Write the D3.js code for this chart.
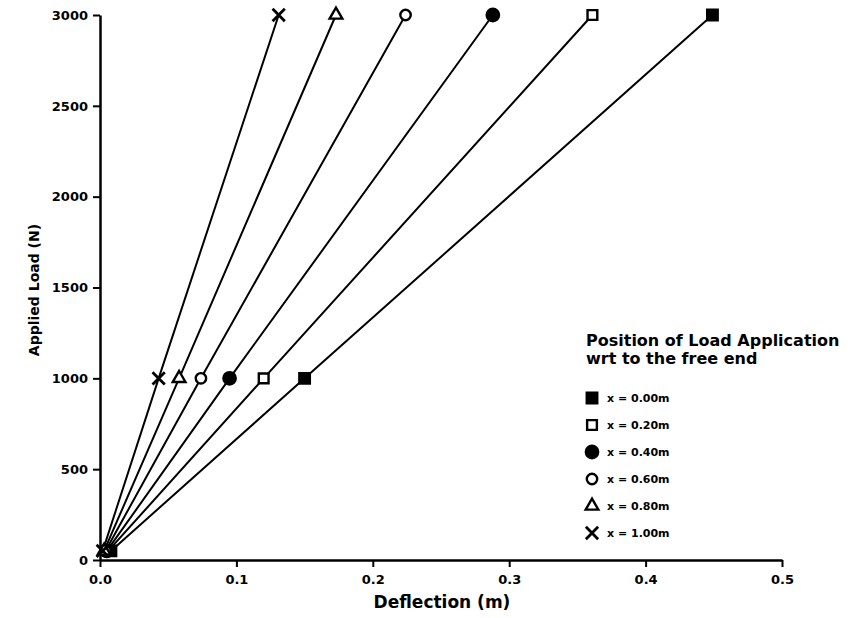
<!DOCTYPE html>
<html>
<head>
<meta charset="utf-8">
<script src="https://cdn.jsdelivr.net/npm/d3@7"></script>
<style>
  body { margin: 0; background: #fff; }
  svg text { font-family: "DejaVu Sans", sans-serif; font-weight: bold; fill: #000; }
</style>
</head>
<body>
<div id="chart"></div>
<script>
// applied loads (N) at which deflection was measured
var loads = [50, 1000, 3000];

// deflection (m) per load position
var defl000 = [0.008, 0.150, 0.449];
var defl020 = [0.006, 0.120, 0.361];
var defl040 = [0.005, 0.095, 0.288];
var defl060 = [0.004, 0.074, 0.224];
var defl080 = [0.003, 0.058, 0.173];
var defl100 = [0.002, 0.043, 0.131];

var seriesNames = ['x = 0.00m', 'x = 0.20m', 'x = 0.40m', 'x = 0.60m', 'x = 0.80m', 'x = 1.00m'];
var xTicks = [0, 0.1, 0.2, 0.3, 0.4, 0.5];
var yTicks = [0, 500, 1000, 1500, 2000, 2500, 3000];

var width = 854, height = 618;

var series = [defl000, defl020, defl040, defl060, defl080, defl100].map(function (vals, i) {
    return {
        name: seriesNames[i],
        points: vals.map(function (d, j) { return {x: d, y: loads[j]}; })
    };
});

// marker look for each series
var markers = [
    {type: d3.symbolSquare, size: 110, fill: '#000'},
    {type: d3.symbolSquare, size: 95, fill: '#fff'},
    {type: d3.symbolCircle, size: 120, fill: '#000'},
    {type: d3.symbolCircle, size: 85, fill: '#fff'},
    {type: d3.symbolTriangle, size: 70, fill: '#fff'},
    {type: d3.symbolTimes || d3.symbolCross, size: 100, fill: 'none'}
];

var svg = d3.select('#chart').append('svg').attr('width', width).attr('height', height);

var x = d3.scaleLinear().domain([0, 0.5]).range([100, 782]);
var y = d3.scaleLinear().domain([0, 3000]).range([560, 15]);

var xAxis = svg.append('g')
    .attr('transform', 'translate(0,' + y(0) + ')')
    .call(d3.axisBottom(x).tickValues(xTicks).tickFormat(d3.format('.1f')).tickSize(7).tickSizeOuter(0));

var yAxis = svg.append('g')
    .attr('transform', 'translate(' + x(0) + ',0)')
    .call(d3.axisLeft(y).tickValues(yTicks).tickFormat(d3.format('d')).tickSize(7).tickSizeOuter(0));

[xAxis, yAxis].forEach(function (ax) {
    ax.select('.domain').attr('stroke', '#000').attr('stroke-width', 2.5);
    ax.selectAll('.tick line').attr('stroke', '#000').attr('stroke-width', 2);
    ax.selectAll('.tick text').style('font-size', '13px').attr('fill', '#000');
});
xAxis.selectAll('.tick text').attr('dy', '1.1em');
yAxis.selectAll('.tick text').attr('x', -12);

var line = d3.line().x(function (d) { return x(d.x); }).y(function (d) { return y(d.y); });

svg.selectAll('.series-line')
    .data(series)
    .enter()
    .append('path')
    .attr('class', 'series-line')
    .attr('d', function (d) { return line(d.points); })
    .attr('fill', 'none')
    .attr('stroke', '#000')
    .attr('stroke-width', 2);

function drawMarker(sel, i) {
    var m = markers[i];
    sel.attr('d', d3.symbol().type(m.type).size(m.size)())
        .attr('fill', m.fill)
        .attr('stroke', '#000')
        .attr('stroke-width', i === 5 ? 2.8 : 2.4);
}

series.forEach(function (s, i) {
    svg.append('g').selectAll('path')
        .data(s.points)
        .enter()
        .append('path')
        .attr('transform', function (d) { return 'translate(' + x(d.x) + ',' + y(d.y) + ')'; })
        .call(drawMarker, i);
});

// axis titles
svg.append('text')
    .attr('x', 442)
    .attr('y', 608)
    .attr('text-anchor', 'middle')
    .style('font-size', '17px')
    .text('Deflection (m)');

svg.append('text')
    .attr('transform', 'translate(39,290) rotate(-90)')
    .attr('text-anchor', 'middle')
    .style('font-size', '14px')
    .text('Applied Load (N)');

// legend
var legend = svg.append('g').attr('transform', 'translate(586,0)');
legend.append('text').attr('x', 0).attr('y', 346).style('font-size', '16px').text('Position of Load Application');
legend.append('text').attr('x', 0).attr('y', 364).style('font-size', '16px').text('wrt to the free end');

var rows = legend.selectAll('.row')
    .data(series)
    .enter()
    .append('g')
    .attr('class', 'row')
    .attr('transform', function (d, i) { return 'translate(0,' + (398 + i * 27) + ')'; });

rows.append('path')
    .attr('transform', 'translate(6,0)')
    .each(function (d, i) { drawMarker(d3.select(this), i); });

rows.append('text')
    .attr('x', 21)
    .attr('dy', '0.35em')
    .style('font-size', '11px')
    .text(function (d) { return d.name; });
</script>
</body>
</html>
